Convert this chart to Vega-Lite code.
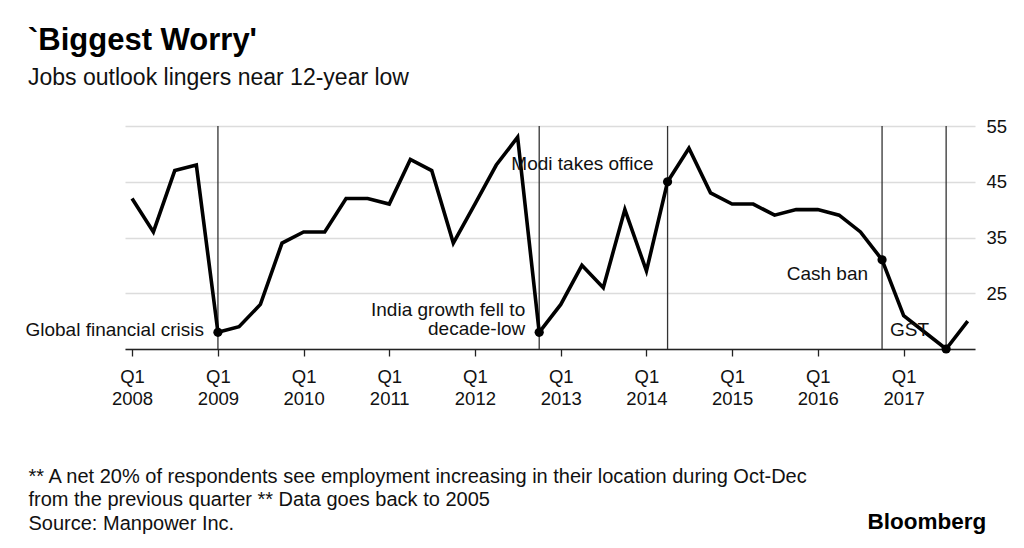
{
  "$schema": "https://vega.github.io/schema/vega-lite/v6.json",
  "width": 850,
  "height": 223,
  "autosize": {"type": "none"},
  "padding": {"left": 125, "top": 126, "right": 49, "bottom": 199},
  "background": "white",
  "title": {
    "text": "`Biggest Worry'",
    "subtitle": "Jobs outlook lingers near 12-year low",
    "anchor": "start",
    "frame": "group",
    "dx": -97,
    "offset": 26,
    "font": "Liberation Sans",
    "fontSize": 31,
    "fontWeight": "bold",
    "color": "#000000",
    "subtitleFont": "Liberation Sans",
    "subtitleFontSize": 23,
    "subtitleColor": "#111111",
    "subtitlePadding": 10
  },
  "datasets": {
    "jobs": [
      {"date": "2008-01-01", "value": 42},
      {"date": "2008-04-01", "value": 36},
      {"date": "2008-07-01", "value": 47},
      {"date": "2008-10-01", "value": 48},
      {"date": "2009-01-01", "value": 18},
      {"date": "2009-04-01", "value": 19},
      {"date": "2009-07-01", "value": 23},
      {"date": "2009-10-01", "value": 34},
      {"date": "2010-01-01", "value": 36},
      {"date": "2010-04-01", "value": 36},
      {"date": "2010-07-01", "value": 42},
      {"date": "2010-10-01", "value": 42},
      {"date": "2011-01-01", "value": 41},
      {"date": "2011-04-01", "value": 49},
      {"date": "2011-07-01", "value": 47},
      {"date": "2011-10-01", "value": 34},
      {"date": "2012-01-01", "value": 41},
      {"date": "2012-04-01", "value": 48},
      {"date": "2012-07-01", "value": 53},
      {"date": "2012-10-01", "value": 18},
      {"date": "2013-01-01", "value": 23},
      {"date": "2013-04-01", "value": 30},
      {"date": "2013-07-01", "value": 26},
      {"date": "2013-10-01", "value": 40},
      {"date": "2014-01-01", "value": 29},
      {"date": "2014-04-01", "value": 45},
      {"date": "2014-07-01", "value": 51},
      {"date": "2014-10-01", "value": 43},
      {"date": "2015-01-01", "value": 41},
      {"date": "2015-04-01", "value": 41},
      {"date": "2015-07-01", "value": 39},
      {"date": "2015-10-01", "value": 40},
      {"date": "2016-01-01", "value": 40},
      {"date": "2016-04-01", "value": 39},
      {"date": "2016-07-01", "value": 36},
      {"date": "2016-10-01", "value": 31},
      {"date": "2017-01-01", "value": 21},
      {"date": "2017-04-01", "value": 18},
      {"date": "2017-07-01", "value": 15},
      {"date": "2017-10-01", "value": 20}
    ],
    "events": [
      {"event": "gfc", "date": "2009-01-01", "value": 18, "label": "Global financial crisis"},
      {"event": "india", "date": "2012-10-01", "value": 18, "label": ["India growth fell to", "decade-low"]},
      {"event": "modi", "date": "2014-04-01", "value": 45, "label": "Modi takes office"},
      {"event": "cash", "date": "2016-10-01", "value": 31, "label": "Cash ban"},
      {"event": "gst", "date": "2017-07-01", "value": 15, "label": "GST"}
    ]
  },
  "encoding": {
    "x": {
      "field": "date",
      "type": "temporal",
      "scale": {
        "type": "utc",
        "domain": [
          {"year": 2007, "month": 12, "date": 2, "utc": true},
          {"year": 2017, "month": 11, "date": 1, "utc": true}
        ]
      },
      "axis": {
        "title": ["** A net 20% of respondents see employment increasing in their location during Oct-Dec", "from the previous quarter ** Data goes back to 2005", "Source: Manpower Inc."],
        "titleAnchor": "start",
        "titleAlign": "left",
        "titleBaseline": "alphabetic",
        "titleX": -97,
        "titleY": 133,
        "titleFont": "Liberation Sans",
        "titleFontSize": 20,
        "titleFontWeight": "normal",
        "titleLineHeight": 23.5,
        "titleColor": "#111111",
        "values": [
          {"year": 2008, "month": 1, "date": 1, "utc": true},
          {"year": 2009, "month": 1, "date": 1, "utc": true},
          {"year": 2010, "month": 1, "date": 1, "utc": true},
          {"year": 2011, "month": 1, "date": 1, "utc": true},
          {"year": 2012, "month": 1, "date": 1, "utc": true},
          {"year": 2013, "month": 1, "date": 1, "utc": true},
          {"year": 2014, "month": 1, "date": 1, "utc": true},
          {"year": 2015, "month": 1, "date": 1, "utc": true},
          {"year": 2016, "month": 1, "date": 1, "utc": true},
          {"year": 2017, "month": 1, "date": 1, "utc": true}
        ],
        "labelExpr": "['Q1', utcFormat(datum.value, '%Y')]",
        "labelFont": "Liberation Sans",
        "labelFontSize": 18.5,
        "labelLineHeight": 22,
        "labelColor": "#111111",
        "labelPadding": 11,
        "labelOverlap": false,
        "labelFlush": false,
        "grid": false,
        "domainColor": "#222222",
        "domainWidth": 1.5,
        "tickColor": "#222222",
        "tickWidth": 1.3,
        "tickSize": 7
      }
    }
  },
  "layer": [
    {
      "data": {"name": "events"},
      "mark": {"type": "rule", "color": "#333333", "strokeWidth": 1.3},
      "encoding": {}
    },
    {
      "data": {"name": "jobs"},
      "mark": {"type": "line", "color": "#000000", "strokeWidth": 3.6, "strokeJoin": "miter"},
      "encoding": {
        "y": {
          "field": "value",
          "type": "quantitative",
          "scale": {"domain": [15, 55], "nice": false, "zero": false},
          "axis": {
            "orient": "right",
            "values": [15, 20, 25, 30, 35, 40, 45, 50, 55],
            "labelExpr": "(datum.value % 10 == 5 && datum.value > 15) ? datum.label : ''",
            "grid": true,
            "gridColor": "#dcdcdc",
            "gridWidth": 1.5,
            "domain": false,
            "ticks": false,
            "labelPadding": 11,
            "labelFont": "Liberation Sans",
            "labelFontSize": 18.5,
            "labelColor": "#111111",
            "title": "Bloomberg",
            "titleAngle": 0,
            "titleAlign": "left",
            "titleBaseline": "alphabetic",
            "titleX": -108,
            "titleY": 402,
            "titleFont": "Liberation Sans",
            "titleFontSize": 22.5,
            "titleFontWeight": "bold",
            "titleColor": "#000000"
          }
        }
      }
    },
    {
      "data": {"name": "events"},
      "mark": {"type": "point", "filled": true, "color": "#000000", "size": 85, "opacity": 1},
      "encoding": {"y": {"field": "value", "type": "quantitative"}}
    },
    {
      "data": {"name": "events"},
      "transform": [{"filter": "datum.event == 'gfc'"}],
      "mark": {"type": "text", "align": "right", "baseline": "alphabetic", "dx": -14, "dy": 4, "font": "Liberation Sans", "fontSize": 19, "color": "#111111"},
      "encoding": {"y": {"field": "value", "type": "quantitative"}, "text": {"field": "label"}}
    },
    {
      "data": {"name": "events"},
      "transform": [{"filter": "datum.event == 'india'"}],
      "mark": {"type": "text", "align": "right", "baseline": "alphabetic", "dx": -14, "dy": -16, "lineHeight": 19, "font": "Liberation Sans", "fontSize": 19, "color": "#111111"},
      "encoding": {"y": {"field": "value", "type": "quantitative"}, "text": {"field": "label"}}
    },
    {
      "data": {"name": "events"},
      "transform": [{"filter": "datum.event == 'modi'"}],
      "mark": {"type": "text", "align": "right", "baseline": "alphabetic", "dx": -14, "dy": -12, "font": "Liberation Sans", "fontSize": 19, "color": "#111111"},
      "encoding": {"y": {"field": "value", "type": "quantitative"}, "text": {"field": "label"}}
    },
    {
      "data": {"name": "events"},
      "transform": [{"filter": "datum.event == 'cash'"}],
      "mark": {"type": "text", "align": "right", "baseline": "alphabetic", "dx": -14, "dy": 20, "font": "Liberation Sans", "fontSize": 19, "color": "#111111"},
      "encoding": {"y": {"field": "value", "type": "quantitative"}, "text": {"field": "label"}}
    },
    {
      "data": {"name": "events"},
      "transform": [{"filter": "datum.event == 'gst'"}],
      "mark": {"type": "text", "align": "right", "baseline": "alphabetic", "dx": -17, "dy": -13, "font": "Liberation Sans", "fontSize": 19, "color": "#111111"},
      "encoding": {"y": {"field": "value", "type": "quantitative"}, "text": {"field": "label"}}
    }
  ],
  "config": {
    "view": {"stroke": null}
  }
}
